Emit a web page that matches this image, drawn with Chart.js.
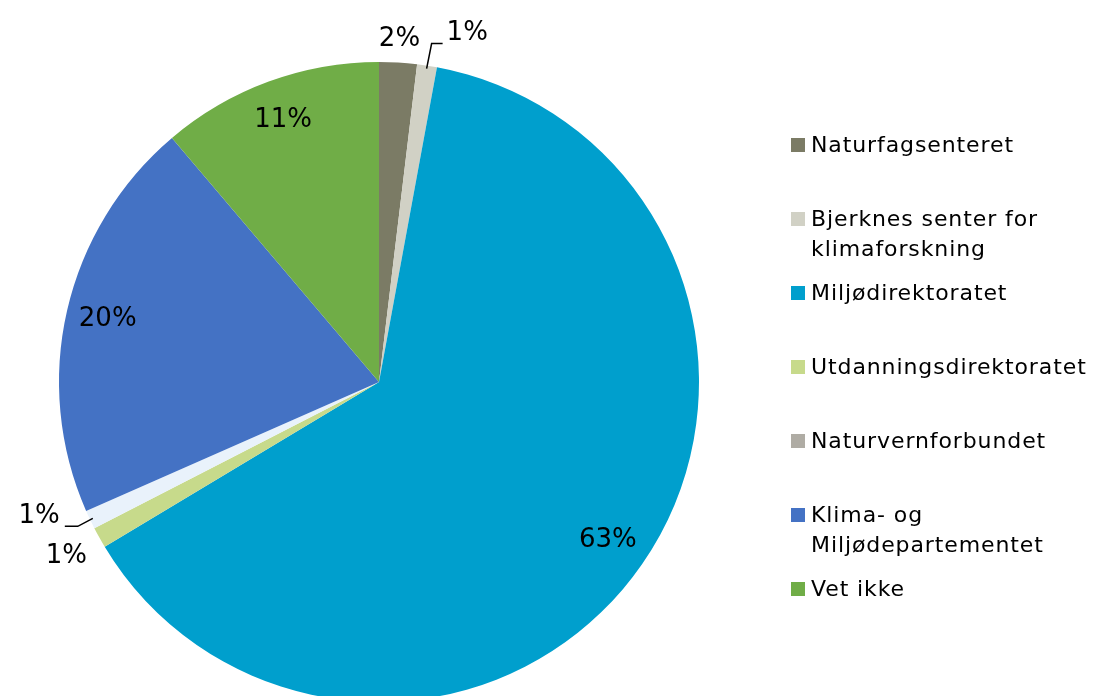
<!DOCTYPE html>
<html>
<head>
<meta charset="utf-8">
<script src="https://cdn.jsdelivr.net/npm/chart.js@4"></script>
<style>
  html, body { margin: 0; padding: 0; background: #fff; overflow: hidden; }
  #wrap { position: relative; width: 1093px; height: 696px; overflow: hidden; }
  #pie { position: absolute; left: 0; top: 0; }
  .legend { position: absolute; left: 791px; font-family: "DejaVu Sans", Verdana, sans-serif; font-size: 22px; letter-spacing: 0.9px; color: #000; line-height: 29.5px; }
  .legend .sw { position: absolute; left: 0; top: 8px; width: 14px; height: 14px; }
  .legend .txt { margin-left: 20px; white-space: nowrap; }
</style>
</head>
<body>
<div id="wrap">
  <canvas id="pie" width="1093" height="730"></canvas>
</div>
<script>
// Chart data
const categories = ['Naturfagsenteret', 'Bjerknes senter for klimaforskning', 'Miljødirektoratet',
                    'Utdanningsdirektoratet', 'Naturvernforbundet', 'Klima- og Miljødepartementet', 'Vet ikke'];
const legendLines = [['Naturfagsenteret'], ['Bjerknes senter for', 'klimaforskning'], ['Miljødirektoratet'],
                     ['Utdanningsdirektoratet'], ['Naturvernforbundet'], ['Klima- og', 'Miljødepartementet'], ['Vet ikke']];
const shares = [1.9, 1.0, 63.49, 1.06, 0.95, 20.4, 11.2];
const sliceColors = ['#7b7b65', '#d1d1c5', '#009fcd', '#c7da8b', '#e9f2fb', '#4472c4', '#70ad47'];
const legendColors = ['#7b7b65', '#d1d1c5', '#009fcd', '#c7da8b', '#afaca4', '#4472c4', '#70ad47'];

// how each data label is placed
const labelMode = ['out', 'leader', 'in', 'out', 'leader', 'in', 'in'];

const labelPlugin = {
    id: 'pieLabels',
    afterDatasetsDraw(chart) {
        const ctx = chart.ctx;
        const meta = chart.getDatasetMeta(0);
        ctx.save();
        ctx.font = '26px "DejaVu Sans", Verdana, sans-serif';
        ctx.fillStyle = '#000';
        ctx.strokeStyle = '#000';
        ctx.lineWidth = 1.5;
        ctx.textAlign = 'center';
        ctx.textBaseline = 'middle';
        meta.data.forEach((arc, i) => {
            const p = arc.getProps(['x', 'y', 'startAngle', 'endAngle', 'outerRadius'], true);
            const mid = (p.startAngle + p.endAngle) / 2;
            const cos = Math.cos(mid), sin = Math.sin(mid);
            const text = Math.round(shares[i]) + '%';
            const R = p.outerRadius;
            if (labelMode[i] === 'in') {
                ctx.fillText(text, p.x + cos * R * 0.87, p.y + sin * R * 0.87);
            } else if (labelMode[i] === 'out') {
                const d = R + 22 + Math.abs(cos) * 18;
                ctx.fillText(text, p.x + cos * d, p.y + sin * d);
            } else {
                // leader line: edge -> elbow -> label
                const ex = p.x + cos * (R - 3), ey = p.y + sin * (R - 3);
                const right = cos > 0;
                const ax = ex + (right ? 5 : -15), ay = ey + (right ? -25 : 8);
                const bx = ax + (right ? 11 : -13);
                ctx.beginPath();
                ctx.moveTo(ex, ey);
                ctx.lineTo(ax, ay);
                ctx.lineTo(bx, ay);
                ctx.stroke();
                ctx.textAlign = right ? 'left' : 'right';
                ctx.fillText(text, bx + (right ? 4 : -5), ay - 10);
                ctx.textAlign = 'center';
            }
        });
        ctx.restore();
    }
};

new Chart(document.getElementById('pie'), {
    type: 'pie',
    data: {
        labels: categories,
        datasets: [{ data: shares, backgroundColor: sliceColors, borderWidth: 0 }]
    },
    options: {
        responsive: false,
        animation: false,
        layout: { padding: { left: 59, top: 62, right: 394, bottom: 28 } },
        plugins: { legend: { display: false }, tooltip: { enabled: false } }
    },
    plugins: [labelPlugin]
});

// legend on the right, one slot per category
const wrap = document.getElementById('wrap');
legendLines.forEach((lines, i) => {
    const item = document.createElement('div');
    item.className = 'legend';
    item.style.top = (130 + i * 74) + 'px';
    const sw = document.createElement('div');
    sw.className = 'sw';
    sw.style.background = legendColors[i];
    const txt = document.createElement('div');
    txt.className = 'txt';
    txt.innerHTML = lines.join('<br>');
    item.appendChild(sw);
    item.appendChild(txt);
    wrap.appendChild(item);
});
</script>
</body>
</html>
